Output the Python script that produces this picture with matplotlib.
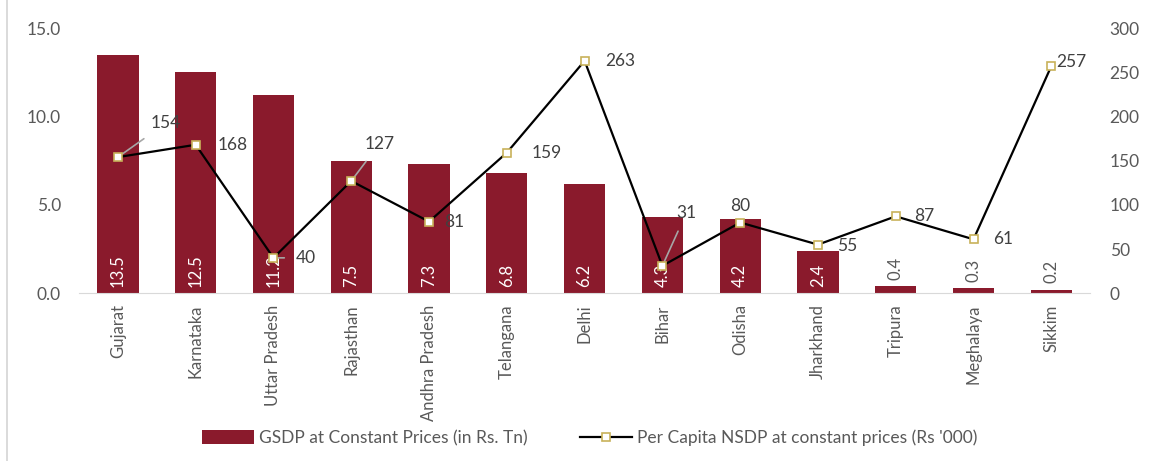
import matplotlib
matplotlib.use("Agg")
import matplotlib.pyplot as plt
from matplotlib.lines import Line2D
import numpy as np

states = ["Gujarat", "Karnataka", "Uttar Pradesh", "Rajasthan", "Andhra Pradesh",
          "Telangana", "Delhi", "Bihar", "Odisha", "Jharkhand", "Tripura",
          "Meghalaya", "Sikkim"]
gsdp = [13.5, 12.5, 11.2, 7.5, 7.3, 6.8, 6.2, 4.3, 4.2, 2.4, 0.4, 0.3, 0.2]
per_capita = [154, 168, 40, 127, 81, 159, 263, 31, 80, 55, 87, 61, 257]
left_ticks = [0, 5, 10, 15]
right_ticks = [0, 50, 100, 150, 200, 250, 300]
bar_label = "GSDP at Constant Prices (in Rs. Tn)"
line_label = "Per Capita NSDP at constant prices (Rs '000)"

# label offsets (pixels) for the line labels, and whether a leader line is drawn
line_offsets = [(48, 34), (37, 0), (32, 0), (28, 37), (25, 0), (40, 0), (36, 0),
                (24, 53), (0, 17), (29, -1), (29, 0), (30, 0), (20, 4)]
leaders = [True, False, True, True, False, False, False, True, False, False, False, False, False]

plt.rcParams['font.family'] = ['Lato', 'DejaVu Sans']
BAR = '#8a1a2c'
GRAY = '#595959'

fig = plt.figure(figsize=(11.5, 4.61), dpi=100)
ax = fig.add_axes([0.0687, 0.364, 0.948 - 0.0687, 0.939 - 0.364])
ax2 = ax.twinx()
ax.set_zorder(ax2.get_zorder() - 1)
ax.patch.set_visible(False)

x = np.arange(len(states))
bars = ax.bar(x, gsdp, width=0.53, color=BAR, label=bar_label, zorder=2)
ax.set_xlim(-0.5, len(states) - 0.5)
ax.set_ylim(0, 15)
ax.set_yticks(left_ticks)
ax.set_yticklabels([f"{v:.1f}" for v in left_ticks])
ax.set_xticks(x)
ax.set_xticklabels(states, rotation=90)

for i, v in enumerate(gsdp):
    if v > 1:
        ax.text(i, 0.35, f"{v}", rotation=90, ha='center', va='bottom',
                color='white', fontsize=12)
    else:
        ax.text(i, v + 0.35, f"{v}", rotation=90, ha='center', va='bottom',
                color=GRAY, fontsize=12)

ln, = ax2.plot(x, per_capita, color='black', lw=1.6, marker='s', markersize=6,
               markerfacecolor='white', markeredgecolor='#c8b25a', markeredgewidth=1.2,
               label=line_label, zorder=5)
ax2.set_ylim(0, 300)
ax2.set_yticks(right_ticks)

for i, v in enumerate(per_capita):
    dx, dy = line_offsets[i]
    kw = {}
    if leaders[i]:
        kw['arrowprops'] = dict(arrowstyle='-', color='#a6a6a6', lw=1.2,
                                shrinkA=6, shrinkB=2)
    ax2.annotate(f"{v}", xy=(i, v), xytext=(dx, dy), textcoords='offset pixels',
                 ha='center', va='center', fontsize=12.5, color='#404040', **kw)

for a in (ax, ax2):
    for s in a.spines.values():
        s.set_visible(False)
    a.tick_params(length=0, labelsize=12.5, colors=GRAY)
ax.spines['bottom'].set_visible(True)
ax.spines['bottom'].set_color('#d9d9d9')
ax.tick_params(axis='x', labelsize=12, pad=8)
ax.tick_params(axis='y', pad=13)
ax2.tick_params(axis='y', pad=14)

fig.legend(handles=[bars, ln], labels=[bar_label, line_label], loc='center',
           bbox_to_anchor=(0.513, 0.05), ncol=2, frameon=False, fontsize=12.5,
           labelcolor=GRAY, handlelength=3.0, handleheight=0.9, columnspacing=3.0,
           handletextpad=0.3)

fig.add_artist(Line2D([0.006, 0.006], [0.0, 1.0], color='#d4d4d4', lw=1.2))

fig.savefig("out.png", dpi=100)
